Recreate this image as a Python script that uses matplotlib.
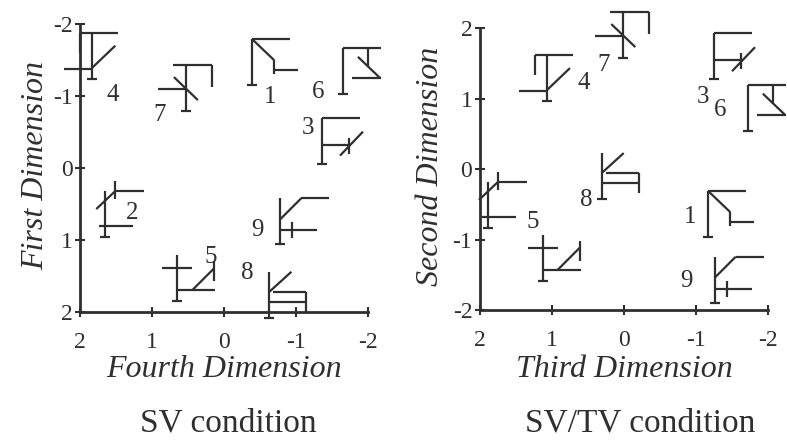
import matplotlib
matplotlib.use("Agg")
import matplotlib.pyplot as plt
import matplotlib.transforms as mtransforms

plt.rcParams["font.family"] = "Liberation Serif"
plt.rcParams["axes.unicode_minus"] = False

INK = "#2f2f2f"

stimuli = ["1", "2", "3", "4", "5", "6", "7", "8", "9"]

# SV condition: fourth dimension (x) against first dimension (y)
sv_fourth = [-0.39, 1.65, -1.36, 1.83, 0.65, -1.65, 0.53, -0.63, -0.78]
sv_first = [-1.47, 0.64, -0.38, -1.56, 1.53, -1.35, -1.11, 1.76, 0.74]

# SV/TV condition: third dimension (x) against second dimension (y)
svtv_third = [-1.17, 1.89, -1.25, 1.07, 1.13, -1.72, 0.01, 0.31, -1.26]
svtv_second = [-0.64, -0.51, 1.60, 1.29, -1.26, 0.87, 1.90, -0.10, -1.57]

tick_values = [-2, -1, 0, 1, 2]
tick_labels = ["-2", "-1", "0", "1", "2"]

# stick-figure strokes of each stimulus, in pixels from the top of the stem
# (y grows downwards); every figure also gets the stem and its foot
STEM = 46
glyph_strokes = {
    "1": [((0, 0), (38, 0)), ((0, 0), (22, 21)), ((22, 21), (22, 35)),
          ((22, 31), (46, 31))],
    "2": [((10, -10), (10, 8)), ((10, 0), (39, 0)), ((-9, 18), (10, 0)),
          ((-6, 35), (28, 35))],
    "3": [((0, 0), (38, 0)), ((0, 27), (27, 27)), ((18, 38), (41, 14)),
          ((27, 20), (27, 36))],
    "4": [((-12, 0), (26, 0)), ((-12, 0), (-12, 20)), ((-28, 36), (0, 36)),
          ((0, 35), (23, 13))],
    "5": [((-15, 13), (15, 13)), ((0, 35), (38, 35)), ((15, 35), (37, 13)),
          ((37, 6), (37, 26))],
    "6": [((0, 0), (38, 0)), ((25, 0), (25, 19)), ((15, 9), (37, 30)),
          ((9, 30), (38, 30))],
    "7": [((-13, 0), (26, 0)), ((26, 0), (26, 22)), ((-28, 24), (0, 24)),
          ((-12, 12), (12, 35))],
    "8": [((0, 20), (22, 0)), ((4, 20), (37, 20)), ((0, 30), (37, 30)),
          ((37, 20), (37, 40))],
    "9": [((21, 0), (49, 0)), ((0, 21), (21, 0)), ((0, 32), (37, 32)),
          ((12, 24), (12, 40))],
}

# where the number sits next to each figure (pixels from the stem top)
sv_label_offsets = {"1": (18, 58), "2": (27, 22), "3": (-14, 10),
                    "4": (20, 62), "5": (33, 2), "6": (-25, 44),
                    "7": (-26, 50), "8": (-22, 1), "9": (-23, 32)}
svtv_label_offsets = {"1": (-18, 26), "2": None, "3": (-11, 64),
                      "4": (37, 28), "5": (-10, -13), "6": (-28, 25),
                      "7": (-20, 53), "8": (-15, 47), "9": (-28, 24)}


def draw_glyph(fig, ax, x, y, name, label_offset):
    trans = (mtransforms.Affine2D().translate(0, -STEM / 2)
             .scale(1 / fig.dpi, -1 / fig.dpi)
             + fig.dpi_scale_trans
             + mtransforms.ScaledTranslation(x, y, ax.transData))
    strokes = [((0, 0), (0, STEM)), ((-5, STEM), (5, STEM))]
    strokes += glyph_strokes[name]
    for (x0, y0), (x1, y1) in strokes:
        ax.plot([x0, x1], [y0, y1], transform=trans, color=INK, lw=1.6,
                solid_capstyle="butt", clip_on=False)
    if label_offset is not None:
        dx, dy = label_offset
        ax.annotate(name, xy=(x, y), xytext=(dx, -(dy - STEM / 2)),
                    textcoords="offset pixels", ha="center", va="center",
                    fontsize=18, color=INK)


def style_axes(ax, xlabel, ylabel, ylim, label_x, label_y):
    ax.set_xlim(2, -2)
    ax.set_ylim(*ylim)
    for side in ["top", "right"]:
        ax.spines[side].set_visible(False)
    for side in ["left", "bottom"]:
        ax.spines[side].set_linewidth(2)
        ax.spines[side].set_color(INK)
    ax.set_xticks(tick_values)
    ax.set_xticklabels(tick_labels)
    ax.set_yticks(tick_values)
    ax.set_yticklabels(tick_labels)
    ax.tick_params(axis="both", direction="inout", length=7, width=1.5,
                   colors=INK, labelsize=17)
    ax.tick_params(axis="x", pad=11)
    ax.tick_params(axis="y", pad=2)
    ax.set_xlabel(xlabel, fontsize=23, style="italic", color=INK)
    ax.set_ylabel(ylabel, fontsize=23, style="italic", color=INK)
    ax.xaxis.set_label_coords(0.5, label_x)
    ax.yaxis.set_label_coords(label_y, 0.51)
    ax.set_facecolor("none")


fig = plt.figure(figsize=(7.87, 4.42), dpi=100)
ax_sv = fig.add_axes([0.1017, 0.2941, 0.366, 0.6516])
ax_svtv = fig.add_axes([0.6099, 0.2986, 0.366, 0.638])

style_axes(ax_sv, "Fourth Dimension", "First Dimension", (2, -2),
           -0.15, -0.105)
style_axes(ax_svtv, "Third Dimension", "Second Dimension", (-2, 2),
           -0.16, -0.12)

for i, name in enumerate(stimuli):
    draw_glyph(fig, ax_sv, sv_fourth[i], sv_first[i], name,
               sv_label_offsets[name])
    draw_glyph(fig, ax_svtv, svtv_third[i], svtv_second[i], name,
               svtv_label_offsets[name])

fig.text(228 / 787, 1 - 432 / 442, "SV condition", ha="center",
         va="baseline", fontsize=24, color=INK)
fig.text(640 / 787, 1 - 432 / 442, "SV/TV condition", ha="center",
         va="baseline", fontsize=24, color=INK)

fig.savefig("out.png", dpi=100, facecolor="white")
